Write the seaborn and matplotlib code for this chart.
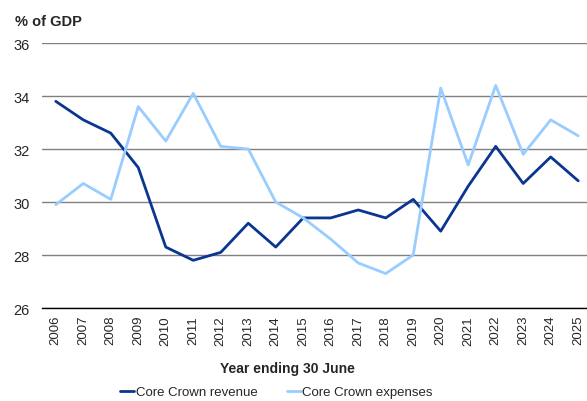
import pandas as pd
import matplotlib.pyplot as plt
import seaborn as sns

# Values (% of GDP)
years = [str(y) for y in range(2006, 2026)]
revenue = [33.8, 33.1, 32.6, 31.3, 28.3, 27.8, 28.1, 29.2, 28.3, 29.4,
           29.4, 29.7, 29.4, 30.1, 28.9, 30.6, 32.1, 30.7, 31.7, 30.8]
expenses = [29.9, 30.7, 30.1, 33.6, 32.3, 34.1, 32.1, 32.0, 30.0, 29.4,
            28.6, 27.7, 27.3, 28.0, 34.3, 31.4, 34.4, 31.8, 33.1, 32.5]
series_names = ['Core Crown revenue', 'Core Crown expenses']

df = pd.concat([
    pd.DataFrame({'Year': years, 'Value': revenue, 'Series': series_names[0]}),
    pd.DataFrame({'Year': years, 'Value': expenses, 'Series': series_names[1]}),
])

sns.set_style('white')
plt.rcParams['font.family'] = ['Liberation Sans', 'DejaVu Sans']

fig = plt.figure(figsize=(5.87, 4.02), dpi=100)
ax = fig.add_axes([0.0716, 0.2313, 0.9284, 0.6592])

sns.lineplot(data=df, x='Year', y='Value', hue='Series', sort=False,
             palette=['#0A3591', '#99CCFF'], linewidth=2, ax=ax)

ax.set_ylim(26, 36)
ax.set_yticks([26, 28, 30, 32, 34, 36])
ax.set_xlim(-0.5, 19.32)
ax.grid(axis='y', color='#808080', linewidth=1)
ax.grid(axis='x', visible=False)
for s in ['left', 'right', 'top']:
    ax.spines[s].set_visible(False)
ax.spines['bottom'].set_color('black')
ax.spines['bottom'].set_linewidth(1)
ax.tick_params(axis='x', rotation=90, labelsize=9.5, length=0, pad=5)
ax.tick_params(axis='y', labelsize=10.5, length=0, pad=9)
ax.set_ylabel('')
ax.set_xlabel('Year ending 30 June', fontsize=10, fontweight='bold')
ax.xaxis.set_label_coords(0.45, -0.2)

fig.text(0.026, 0.935, '% of GDP', fontsize=10.5, fontweight='bold')

ax.legend(title=None, frameon=False, ncol=2, fontsize=9.5,
          loc='center', bbox_to_anchor=(0.43, -0.317),
          handlelength=1.1, handletextpad=0.1, columnspacing=2.2)

fig.savefig('out.png', dpi=100)
